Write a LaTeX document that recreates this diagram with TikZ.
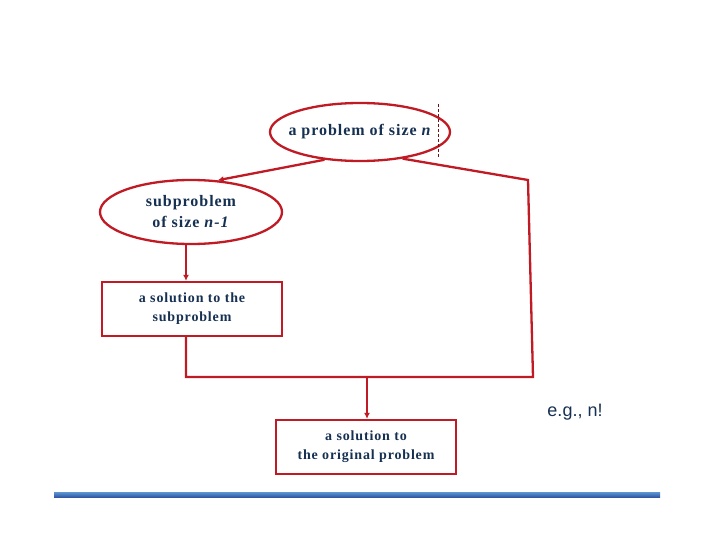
\documentclass[tikz,border=0pt]{standalone}
\usepackage{fontspec}
\setmainfont{Liberation Serif}
\newfontfamily\egfont{Liberation Sans}
\usetikzlibrary{shapes.geometric,arrows.meta}
\definecolor{boxred}{RGB}{192,26,36}
\definecolor{textnavy}{RGB}{22,48,82}
\definecolor{barlight}{RGB}{92,150,210}
\definecolor{bardark}{RGB}{52,88,165}

\begin{document}
\begin{tikzpicture}[x=1pt,y=-1pt]
\tikzstyle{every node}+=[inner sep=0pt]
\tikzstyle{redline}=[draw=boxred, line width=2.3pt]
\tikzstyle{probnode}=[redline, ellipse, text=textnavy, align=center, font=\bfseries\fontsize{16}{21}\selectfont\addfontfeatures{LetterSpace=6}]
\tikzstyle{solnode}=[redline, rectangle, text=textnavy, align=center, minimum width=180pt, minimum height=54pt, font=\bfseries\fontsize{14}{19}\selectfont\addfontfeatures{LetterSpace=6}]
\useasboundingbox (0,0) rectangle (720,540);
% the problem and its subproblem
\node [probnode, inner xsep=-12pt, inner ysep=-6pt, minimum width=180pt, minimum height=58pt] (prob) at (360,132) {a problem of size \textit{n}};
\draw [boxred!60!black, dashed, dash pattern=on 3pt off 2pt, line width=0.7pt] (438,104) -- (438,158);
\node [probnode, minimum width=182pt, minimum height=64pt] (sub) at (191,212) {subproblem\\ of size \textit{n-1}};
% the solutions
\node [solnode] (sol) at (192,309) {a solution to the\\ subproblem};
\node [solnode] (final) at (366,447) {a solution to\\ the original problem};
\node [text=textnavy, font=\egfont\fontsize{18}{20}\selectfont] (eg) at (575,412) {e.g., n!};
% connectors
\coordinate (merge) at (186,377);
\coordinate (split) at (367,377);
\coordinate (rtop) at (528,180);
\coordinate (rbot) at (533,377);
\draw [redline, -{Latex[length=6pt,width=6pt]}] (prob.218) -- (sub.50);
\draw [redline, -{Latex[length=6pt,width=6pt]}] (sub.south -| merge) -- (sol.north -| merge);
\draw [redline, line join=miter] (sol.south -| merge) -- (merge) -- (rbot) -- (rtop) -- (prob.328);
\draw [redline, -{Latex[length=6pt,width=6pt]}] (split) -- (final.north -| split);
% bar at the foot
\shade [top color=barlight, bottom color=bardark] (54,492) rectangle (660,497);
\end{tikzpicture}
\end{document}
